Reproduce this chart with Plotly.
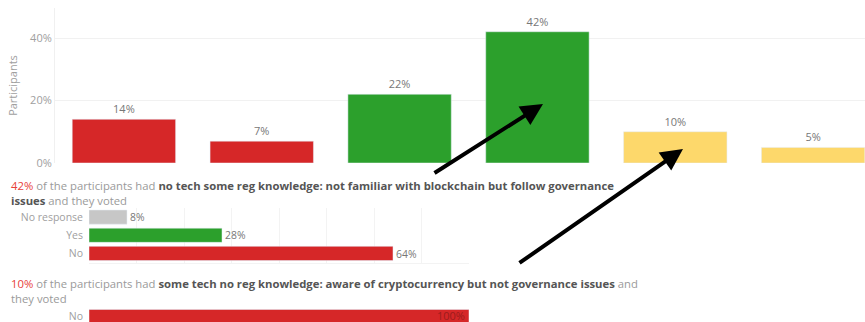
import plotly.graph_objects as go

W, H = 865, 322

# Share of participants per knowledge group (top chart)
groups = ["Group 1", "Group 2", "Group 3", "Group 4", "Group 5", "Group 6"]
group_share = [14, 7, 22, 42, 10, 5]
group_colors = ["#d62728", "#d62728", "#2ca02c", "#2ca02c", "#fdd86b", "#fdd86b"]

# Votes of the "no tech some reg knowledge" group
votes_a_labels = ["No response", "Yes", "No"]
votes_a_values = [8, 28, 64]
votes_a_colors = ["#c7c7c7", "#2ca02c", "#d62728"]

# Votes of the "some tech no reg knowledge" group
votes_b_labels = ["No"]
votes_b_values = [100]
votes_b_colors = ["#d62728"]

y_ticks = [0, 20, 40]
y_tick_text = ["0%", "20%", "40%"]

FONT = "Open Sans"
GRAY = "#9a9a9a"
DARK = "#555555"
RED_TXT = "#e8403a"


def px_x(p):
    return p / W


def px_y(p):
    return 1 - p / H


fig = go.Figure()

# Top chart: participants per group
fig.add_trace(go.Bar(
    x=groups, y=group_share, marker_color=group_colors, width=0.75,
    text=[f"{v}%" for v in group_share], textposition="outside",
    textfont=dict(family=FONT, size=11, color="#777777"),
    cliponaxis=False, xaxis="x", yaxis="y", showlegend=False,
))

# Vote breakdown, group with 42%
fig.add_trace(go.Bar(
    y=votes_a_labels, x=votes_a_values, orientation="h",
    marker_color=votes_a_colors, width=0.78,
    text=[f"{v}%" for v in votes_a_values], textposition="outside",
    textfont=dict(family=FONT, size=11, color="#777777"),
    cliponaxis=False, xaxis="x2", yaxis="y2", showlegend=False,
))

# Vote breakdown, group with 10%
fig.add_trace(go.Bar(
    y=votes_b_labels, x=votes_b_values, orientation="h",
    marker_color=votes_b_colors, width=0.8,
    xaxis="x3", yaxis="y3", showlegend=False,
))
# value label drawn at the bar's end
fig.add_annotation(
    x=votes_b_values[0], y=votes_b_labels[0], xref="x3", yref="y3",
    xanchor="right", yanchor="middle", xshift=-2, yshift=1, showarrow=False,
    text=f"{votes_b_values[0]}%",
    font=dict(family=FONT, size=11, color="#9b1c1c"),
)

top_y0, top_y1 = 163, 8
small_x0, small_x1 = 89, 469
small_tick_font = dict(family=FONT, size=10.5, color="#a0a0a0")

fig.update_layout(
    width=W, height=H,
    margin=dict(l=0, r=0, t=0, b=0, autoexpand=False),
    paper_bgcolor="white", plot_bgcolor="white",
    font=dict(family=FONT, color=GRAY, size=11),
    xaxis=dict(
        domain=[px_x(55), 1], range=[-0.5, 5.5 - 17 / 137.6], anchor="y",
        showticklabels=False, ticks="", showgrid=False, zeroline=False,
        showline=False, automargin=False,
    ),
    yaxis=dict(
        domain=[px_y(top_y0), px_y(top_y1)], anchor="x",
        range=[0, (top_y0 - top_y1) / 3.125],
        tickvals=y_ticks, ticktext=y_tick_text,
        tickfont=dict(size=11, color="#a0a0a0"),
        showgrid=True, gridcolor="#f1f1f1", zeroline=False,
        showline=True, linecolor="#f0f0f0", ticks="", automargin=False,
        title=dict(text="Participants", font=dict(size=11, color="#a0a0a0"),
                   standoff=10),
    ),
    xaxis2=dict(
        domain=[px_x(small_x0), px_x(small_x1)], range=[0, 80], anchor="y2",
        showticklabels=False, ticks="", dtick=10,
        showgrid=True, gridcolor="#f3f3f3", zeroline=False,
        showline=True, linecolor="#f3f3f3", automargin=False,
    ),
    yaxis2=dict(
        domain=[px_y(262.5), px_y(208)], range=[-0.5, 2.5], anchor="x2",
        categoryorder="array", categoryarray=votes_a_labels[::-1],
        tickfont=small_tick_font, ticks="", ticklabelstandoff=5,
        showgrid=False, zeroline=False, showline=False, automargin=False,
    ),
    xaxis3=dict(
        domain=[px_x(small_x0), px_x(small_x1)], range=[0, 100], anchor="y3",
        showticklabels=False, ticks="", showgrid=False, zeroline=False,
        showline=False, automargin=False,
    ),
    yaxis3=dict(
        domain=[0, px_y(302)], range=[-0.314, 0.829], anchor="x3",
        tickfont=small_tick_font, ticks="", ticklabelstandoff=5,
        showgrid=False, zeroline=False, showline=False, automargin=False,
    ),
)


def caption(share, knowledge, tail, y_mid):
    text = (
        f"<span style='color:{RED_TXT}'>{share}%</span> of the participants had "
        f"<b><span style='color:{DARK}'>{knowledge}</span></b>{tail}"
    )
    fig.add_annotation(
        x=px_x(9), y=px_y(y_mid), xref="paper", yref="paper",
        xanchor="left", yanchor="middle", align="left", showarrow=False,
        text=text, font=dict(family=FONT, size=11.3, color=GRAY),
    )


caption(
    42,
    "no tech some reg knowledge: not familiar with blockchain but follow governance",
    f"<br><b><span style='color:{DARK}'>issues</span></b> and they voted",
    192.5,
)
caption(
    10,
    "some tech no reg knowledge: aware of cryptocurrency but not governance issues",
    " and<br>they voted",
    290.5,
)

# Pointer arrows from the captions to their bars
for head, tail in [((543, 104), (433, 174)), ((683, 149), (518, 264))]:
    fig.add_annotation(
        x=px_x(head[0]), y=px_y(head[1]), xref="paper", yref="paper",
        ax=tail[0] - head[0], ay=tail[1] - head[1],
        text="", showarrow=True, arrowhead=2, arrowsize=1.1,
        arrowwidth=4, arrowcolor="black",
    )

fig.write_html("out.html")
